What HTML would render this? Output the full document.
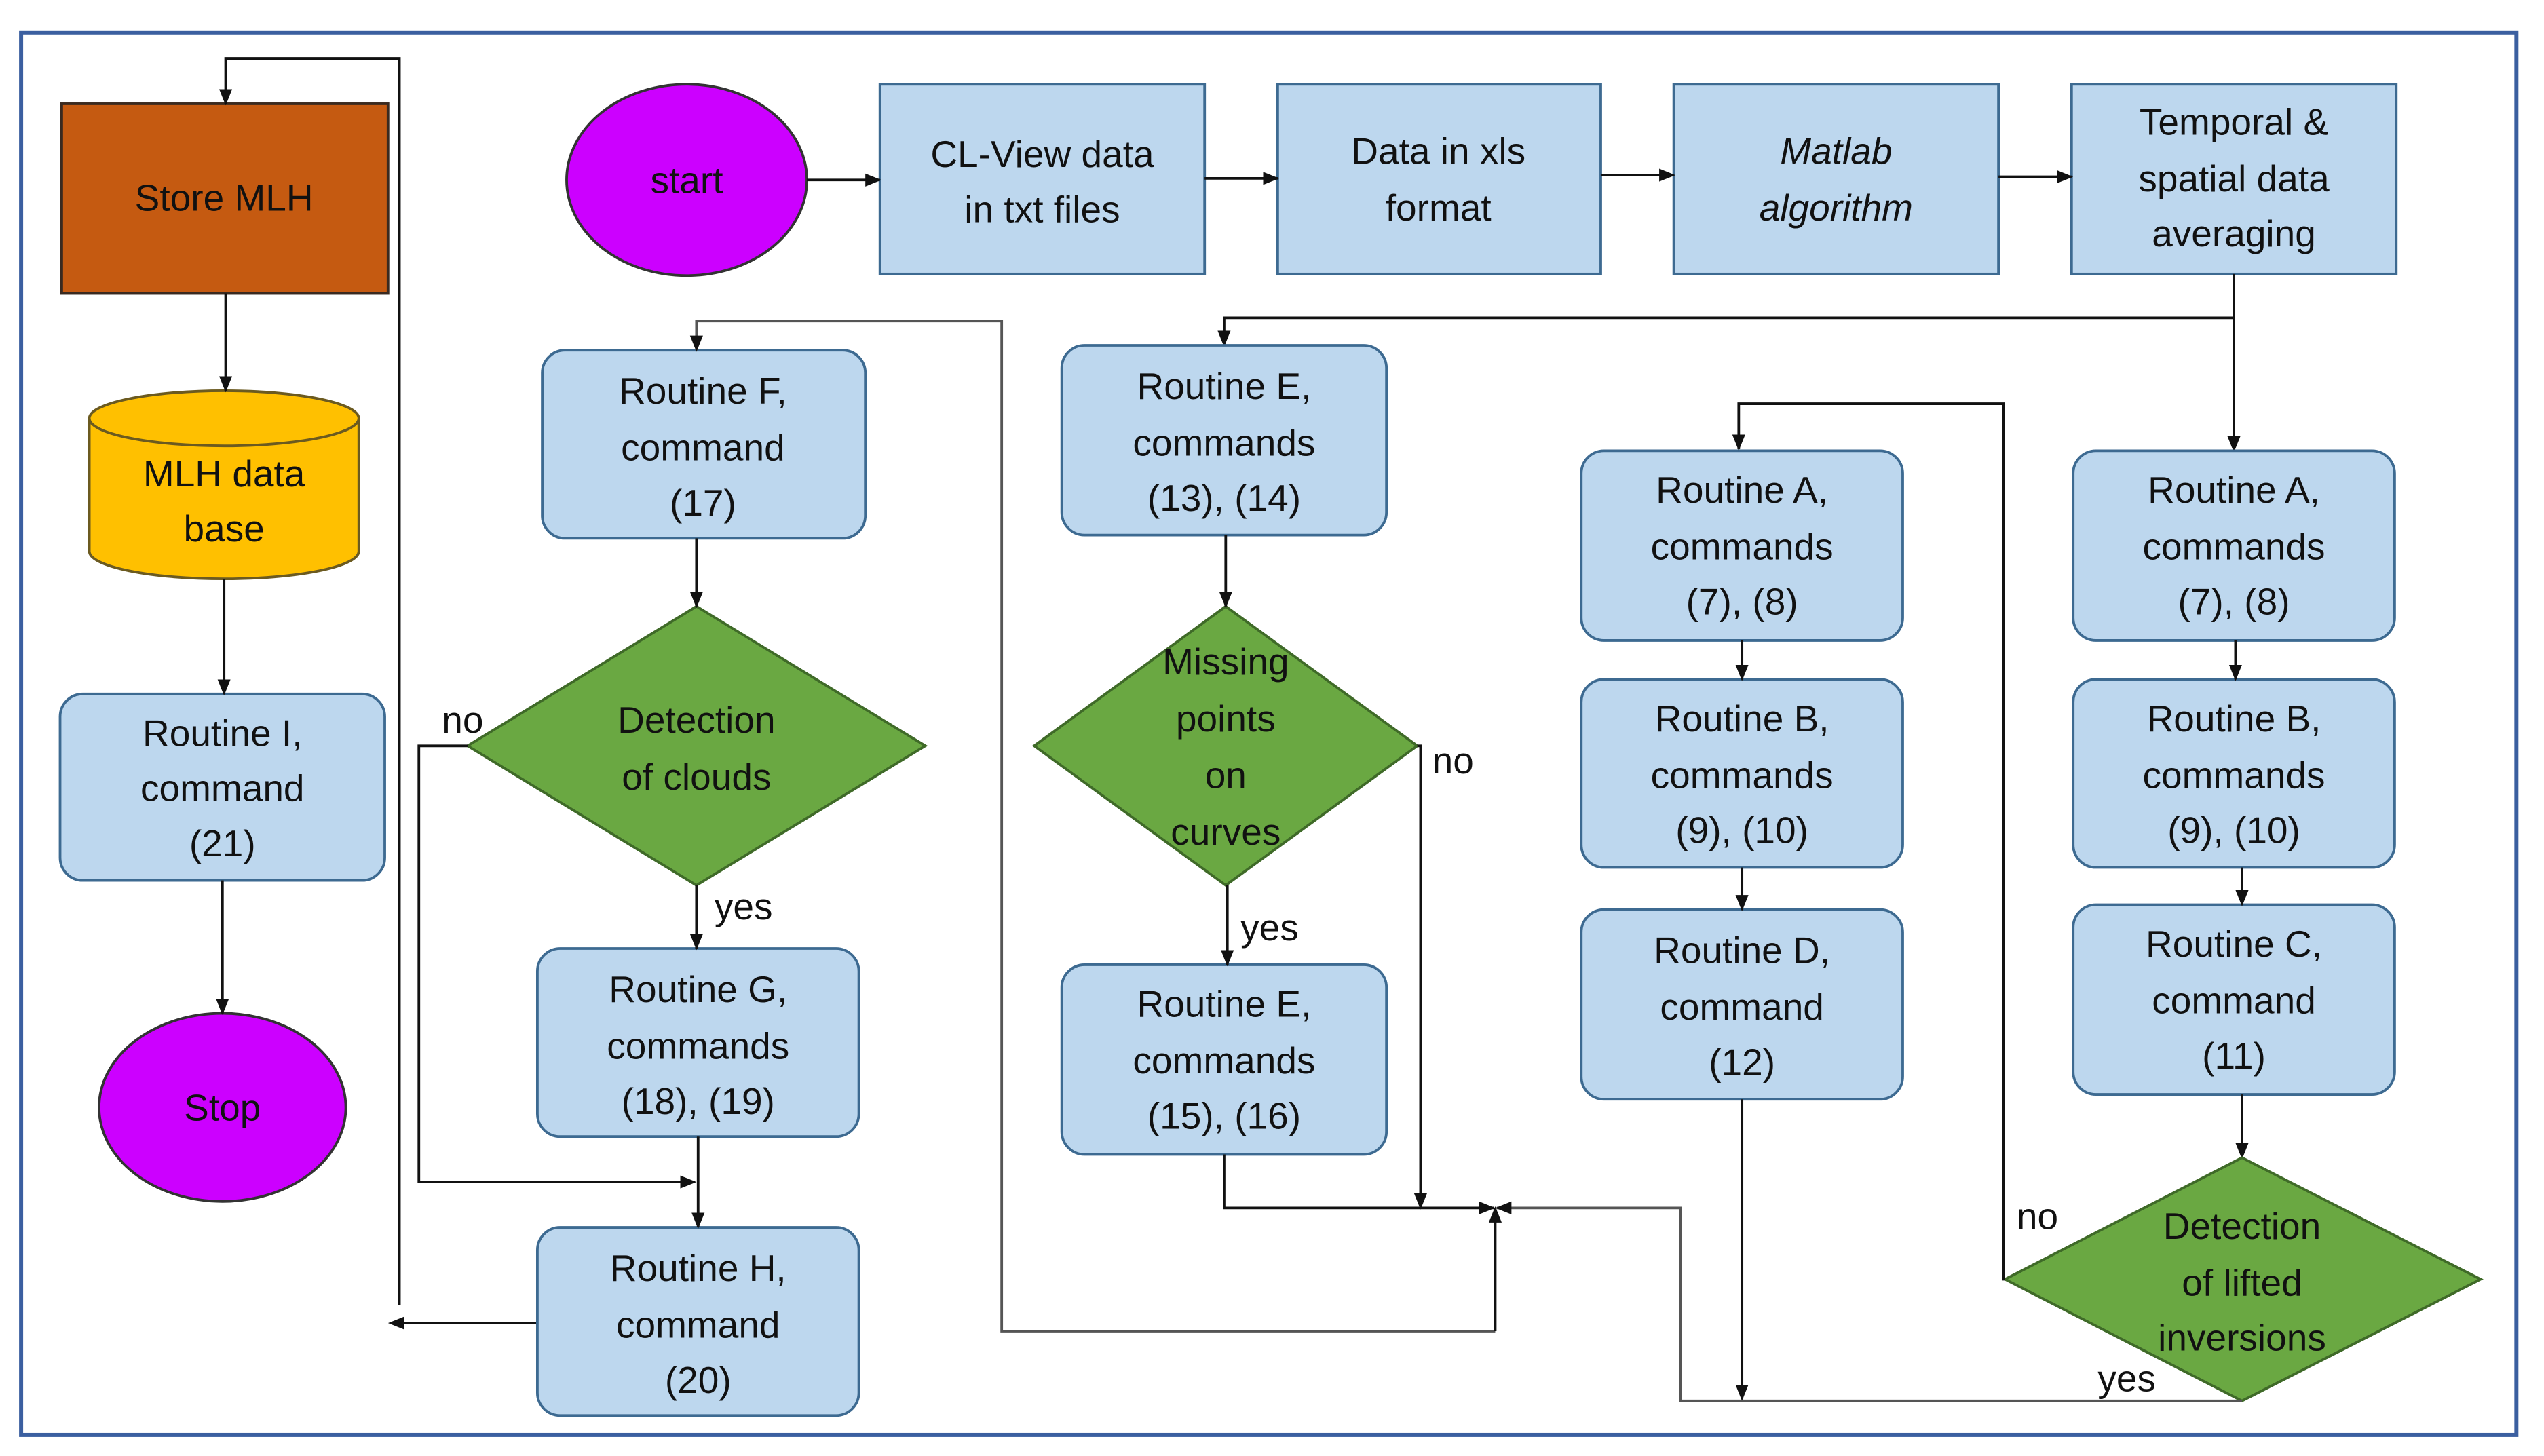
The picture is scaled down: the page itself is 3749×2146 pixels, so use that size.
<!DOCTYPE html>
<html><head><meta charset="utf-8"><style>
html,body{margin:0;padding:0;background:#fff;}
svg{display:block;}
text{font-family:"Liberation Sans",sans-serif;font-size:23px;fill:#111;text-anchor:middle;}
.b{fill:#bdd7ee;stroke:#3d6a91;stroke-width:1.6;}
.d{fill:#6aa842;stroke:#3f6a28;stroke-width:1.6;}
.l{fill:none;stroke:#111;stroke-width:1.6;}
.lg{fill:none;stroke:#555;stroke-width:1.6;}
</style></head><body>
<svg width="3749" height="2146" viewBox="0 0 1567 898" preserveAspectRatio="none" xmlns="http://www.w3.org/2000/svg">
<defs><marker id="a" markerWidth="10" markerHeight="10" refX="9" refY="5" orient="auto" markerUnits="userSpaceOnUse"><path d="M0,1 L10,5 L0,9 z" fill="#111"/></marker></defs>
<rect x="13" y="20" width="1537" height="865" fill="none" stroke="#3b5fa0" stroke-width="2.5"/>

<rect x="38" y="64" width="201" height="117" fill="#c55a11" stroke="#3a2a20" stroke-width="1.6"/>
<text x="138" y="130">Store MLH</text>
<path d="M55,258 L55,340 A83,17 0 0 0 221,340 L221,258" fill="#ffc000" stroke="#6b5a20" stroke-width="1.6"/>
<ellipse cx="138" cy="258" rx="83" ry="17" fill="#ffc000" stroke="#6b5a20" stroke-width="1.6"/>
<text x="138" y="300">MLH data</text><text x="138" y="334">base</text>
<rect class="b" x="37" y="428" width="200" height="115" rx="14"/>
<text x="137" y="460">Routine I,</text><text x="137" y="494">command</text><text x="137" y="528">(21)</text>
<ellipse cx="137" cy="683" rx="76" ry="58" fill="#cc00ff" stroke="#333" stroke-width="1.6"/>
<text x="137" y="691">Stop</text>
<path class="l" d="M139,181 L139,241" marker-end="url(#a)"/>
<path class="l" d="M138,357 L138,428" marker-end="url(#a)"/>
<path class="l" d="M137,543 L137,625" marker-end="url(#a)"/>
<path class="l" d="M246,805 L246,36 L139,36 L139,64" marker-end="url(#a)"/>
<path class="l" d="M331,816 L240,816" marker-end="url(#a)"/>

<ellipse cx="423" cy="111" rx="74" ry="59" fill="#cc00ff" stroke="#333" stroke-width="1.6"/>
<text x="423" y="119">start</text>
<rect class="b" x="542" y="52" width="200" height="117"/>
<text x="642" y="103">CL-View data</text><text x="642" y="137">in txt files</text>
<rect class="b" x="787" y="52" width="199" height="117"/>
<text x="886" y="101">Data in xls</text><text x="886" y="136">format</text>
<rect class="b" x="1031" y="52" width="200" height="117"/>
<text x="1131" y="101" font-style="italic">Matlab</text><text x="1131" y="136" font-style="italic">algorithm</text>
<rect class="b" x="1276" y="52" width="200" height="117"/>
<text x="1376" y="83">Temporal &amp;</text><text x="1376" y="118">spatial data</text><text x="1376" y="152">averaging</text>
<path class="l" d="M497,111 L542,111" marker-end="url(#a)"/>
<path class="l" d="M742,110 L787,110" marker-end="url(#a)"/>
<path class="l" d="M986,108 L1031,108" marker-end="url(#a)"/>
<path class="l" d="M1231,109 L1276,109" marker-end="url(#a)"/>
<path class="l" d="M1376,169 L1376,278" marker-end="url(#a)"/>
<path class="l" d="M1376,196 L754,196 L754,213" marker-end="url(#a)"/>

<rect class="b" x="334" y="216" width="199" height="116" rx="14"/>
<text x="433" y="249">Routine F,</text><text x="433" y="284">command</text><text x="433" y="318">(17)</text>
<polygon class="d" points="429,374 570,460 429,546 288,460"/>
<text x="429" y="452">Detection</text><text x="429" y="487">of clouds</text>
<rect class="b" x="331" y="585" width="198" height="116" rx="14"/>
<text x="430" y="618">Routine G,</text><text x="430" y="653">commands</text><text x="430" y="687">(18), (19)</text>
<rect class="b" x="331" y="757" width="198" height="116" rx="14"/>
<text x="430" y="790">Routine H,</text><text x="430" y="825">command</text><text x="430" y="859">(20)</text>
<path class="l" d="M429,332 L429,374" marker-end="url(#a)"/>
<path class="l" d="M429,546 L429,585" marker-end="url(#a)"/>
<path class="l" d="M430,701 L430,757" marker-end="url(#a)"/>
<path class="l" d="M288,460 L258,460 L258,729 L428,729" marker-end="url(#a)"/>
<text x="285" y="452">no</text><text x="458" y="567">yes</text>
<path class="lg" d="M921,821 L617,821 L617,198 L429,198 L429,216" marker-end="url(#a)"/>
<path class="l" d="M921,821 L921,745" marker-end="url(#a)"/>

<rect class="b" x="654" y="213" width="200" height="117" rx="14"/>
<text x="754" y="246">Routine E,</text><text x="754" y="281">commands</text><text x="754" y="315">(13), (14)</text>
<polygon class="d" points="755,374 873,460 755,546 637,460"/>
<text x="755" y="416">Missing</text><text x="755" y="451">points</text><text x="755" y="486">on</text><text x="755" y="521">curves</text>
<rect class="b" x="654" y="595" width="200" height="117" rx="14"/>
<text x="754" y="627">Routine E,</text><text x="754" y="662">commands</text><text x="754" y="696">(15), (16)</text>
<path class="l" d="M755,330 L755,374" marker-end="url(#a)"/>
<path class="l" d="M756,546 L756,595" marker-end="url(#a)"/>
<text x="782" y="580">yes</text>
<path class="l" d="M873,460 L875,460 L875,745" marker-end="url(#a)"/>
<text x="895" y="477">no</text>
<path class="l" d="M754,712 L754,745 L920,745" marker-end="url(#a)"/>

<rect class="b" x="974" y="278" width="198" height="117" rx="14"/>
<text x="1073" y="310">Routine A,</text><text x="1073" y="345">commands</text><text x="1073" y="379">(7), (8)</text>
<rect class="b" x="974" y="419" width="198" height="116" rx="14"/>
<text x="1073" y="451">Routine B,</text><text x="1073" y="486">commands</text><text x="1073" y="520">(9), (10)</text>
<rect class="b" x="974" y="561" width="198" height="117" rx="14"/>
<text x="1073" y="594">Routine D,</text><text x="1073" y="629">command</text><text x="1073" y="663">(12)</text>
<path class="l" d="M1073,395 L1073,419" marker-end="url(#a)"/>
<path class="l" d="M1073,535 L1073,561" marker-end="url(#a)"/>
<path class="l" d="M1073,678 L1073,863" marker-end="url(#a)"/>

<rect class="b" x="1277" y="278" width="198" height="117" rx="14"/>
<text x="1376" y="310">Routine A,</text><text x="1376" y="345">commands</text><text x="1376" y="379">(7), (8)</text>
<rect class="b" x="1277" y="419" width="198" height="116" rx="14"/>
<text x="1376" y="451">Routine B,</text><text x="1376" y="486">commands</text><text x="1376" y="520">(9), (10)</text>
<rect class="b" x="1277" y="558" width="198" height="117" rx="14"/>
<text x="1376" y="590">Routine C,</text><text x="1376" y="625">command</text><text x="1376" y="659">(11)</text>
<path class="l" d="M1377,395 L1377,419" marker-end="url(#a)"/>
<path class="l" d="M1381,535 L1381,558" marker-end="url(#a)"/>
<path class="l" d="M1381,675 L1381,714" marker-end="url(#a)"/>
<polygon class="d" points="1381,714 1528,789 1381,864 1235,789"/>
<text x="1381" y="764">Detection</text><text x="1381" y="799">of lifted</text><text x="1381" y="833">inversions</text>
<path class="l" d="M1235,789 L1234,789 L1234,249 L1071,249 L1071,277" marker-end="url(#a)"/>
<text x="1255" y="758">no</text>
<path class="lg" d="M1381,864 L1035,864 L1035,745 L922,745" marker-end="url(#a)"/>
<text x="1310" y="858">yes</text>
</svg>
</body></html>
